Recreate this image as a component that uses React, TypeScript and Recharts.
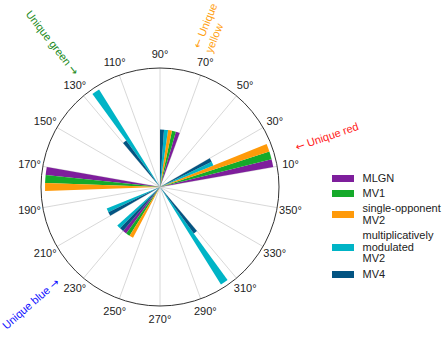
import {
  RadialBarChart,
  RadialBar,
  PolarAngleAxis,
  PolarRadiusAxis,
  PolarGrid,
  Legend,
} from 'recharts';

// ── Data ──

// hue bins, 20° wide, named by their start angle
const binStarts = [10, 30, 50, 70, 90, 110, 130, 150, 170, 190, 210, 230, 250, 270, 290, 310, 330, 350];

const mlgn = [2, 0, 0, 1, 0, 0, 0, 0, 2, 0, 0, 1, 0, 0, 0, 0, 0, 0];
const mv1 = [2, 0, 0, 1, 0, 0, 0, 0, 2, 0, 0, 1, 0, 0, 0, 0, 0, 0];
const soMv2 = [2, 0, 0, 1, 0, 0, 0, 0, 2, 0, 0, 1, 0, 0, 0, 0, 0, 0];
const mmMv2 = [1, 0, 0, 1, 0, 2, 0, 0, 0, 1, 1, 0, 0, 0, 2, 0, 0, 0];
const mv4 = [1, 0, 0, 1, 0, 1, 0, 0, 0, 1, 1, 0, 0, 0, 1, 0, 0, 0];

const angleTicks = [10, 30, 50, 70, 90, 110, 130, 150, 170, 190, 210, 230, 250, 270, 290, 310, 330, 350];

const series = [
  { key: 'mlgn', name: 'MLGN', color: '#7e1e9c' },
  { key: 'mv1', name: 'MV1', color: '#15aa2a' },
  { key: 'soMv2', name: 'single-opponent\nMV2', color: '#ff9a0a' },
  { key: 'mmMv2', name: 'multiplicatively\nmodulated\nMV2', color: '#00b4c6' },
  { key: 'mv4', name: 'MV4', color: '#035482' },
];

const annotations = [
  { text: '← Unique red', color: '#ff1a1a', x: 327, y: 137, rotate: -19 },
  { text: '← Unique\nyellow', color: '#ffa010', x: 211, y: 28, rotate: -68 },
  { text: 'Unique green →', color: '#1a8a1a', x: 51.5, y: 43, rotate: 52 },
  { text: 'Unique blue →', color: '#1010ff', x: 31, y: 304, rotate: -41 },
];

const FONT = '"Liberation Sans", Arial, sans-serif';

// the category axis puts bands one step back, so the chart starts one bin later
const START = 30;
const wrap = (a: number) => (a < START ? a + 360 : a);

const data = binStarts.map((start, i) => ({
  bin: `${start}-${start + 20}`,
  deg: wrap(start),
  mlgn: mlgn[i],
  mv1: mv1[i],
  soMv2: soMv2[i],
  mmMv2: mmMv2[i],
  mv4: mv4[i],
}));

// ── Pieces ──

function AngleTick({ x, y, payload }: any) {
  return (
    <text x={x} y={y} dy="0.35em" textAnchor="middle" fontSize={11} fontFamily={FONT} fill="#222">
      {`${payload.value % 360}°`}
    </text>
  );
}

function SeriesLegend() {
  return (
    <div style={{ fontFamily: FONT, fontSize: 11, color: '#222' }}>
      {series.map((s) => (
        <div key={s.key} style={{ display: 'flex', alignItems: 'center', marginBottom: 3.6 }}>
          <span style={{ width: 22, height: 7, background: s.color, flexShrink: 0, marginRight: 8.5 }} />
          <span style={{ whiteSpace: 'pre', lineHeight: '11.6px' }}>{s.name}</span>
        </div>
      ))}
    </div>
  );
}

function withArrow(text: string) {
  return text.split(/([←→])/).map((part, i) =>
    part === '←' || part === '→' ? (
      <span key={i} style={{ fontFamily: '"DejaVu Sans"' }}>
        {part}
      </span>
    ) : (
      part
    ),
  );
}

export default function App() {
  return (
    <div style={{ position: 'absolute', left: 0, top: 0, width: 448, height: 337, background: '#fff', overflow: 'hidden' }}>
      <RadialBarChart
        width={448}
        height={337}
        data={data}
        layout="centric"
        cx={160}
        cy={187}
        innerRadius={0}
        outerRadius={119}
        startAngle={START}
        endAngle={START + 360}
        barCategoryGap={0}
        barGap={0}
        margin={{ top: 0, right: 0, bottom: 0, left: 0 }}
      >
        <PolarGrid gridType="circle" polarRadius={[]} stroke="#d4d4d4" strokeWidth={0.9} />
        <PolarAngleAxis angleAxisId="bin" dataKey="bin" type="category" tick={false} axisLine={false} tickLine={false} />
        <PolarAngleAxis
          dataKey="deg"
          type="number"
          domain={[START, START + 360]}
          allowDataOverflow
          ticks={angleTicks.map(wrap)}
          axisLineType="circle"
          axisLine={{ stroke: '#333', strokeWidth: 1 }}
          tickLine={false}
          tickSize={13.5}
          tick={<AngleTick />}
        />
        <PolarRadiusAxis type="number" domain={[0, 2.07]} tick={false} axisLine={false} />
        {series.map((s) => (
          <RadialBar
            key={s.key}
            angleAxisId="bin"
            dataKey={s.key}
            name={s.name}
            fill={s.color}
            isAnimationActive={false}
          />
        ))}
        <Legend
          layout="vertical"
          align="right"
          verticalAlign="top"
          content={<SeriesLegend />}
          wrapperStyle={{ left: 332, top: 173, right: 'auto', bottom: 'auto', width: 116 }}
        />
      </RadialBarChart>
      {annotations.map((a) => (
        <div
          key={a.text}
          style={{
            position: 'absolute',
            left: a.x,
            top: a.y,
            transform: `translate(-50%, -50%) rotate(${a.rotate}deg)`,
            whiteSpace: 'pre',
            fontFamily: FONT,
            fontSize: 11,
            lineHeight: '12px',
            color: a.color,
          }}
        >
          {withArrow(a.text)}
        </div>
      ))}
    </div>
  );
}
